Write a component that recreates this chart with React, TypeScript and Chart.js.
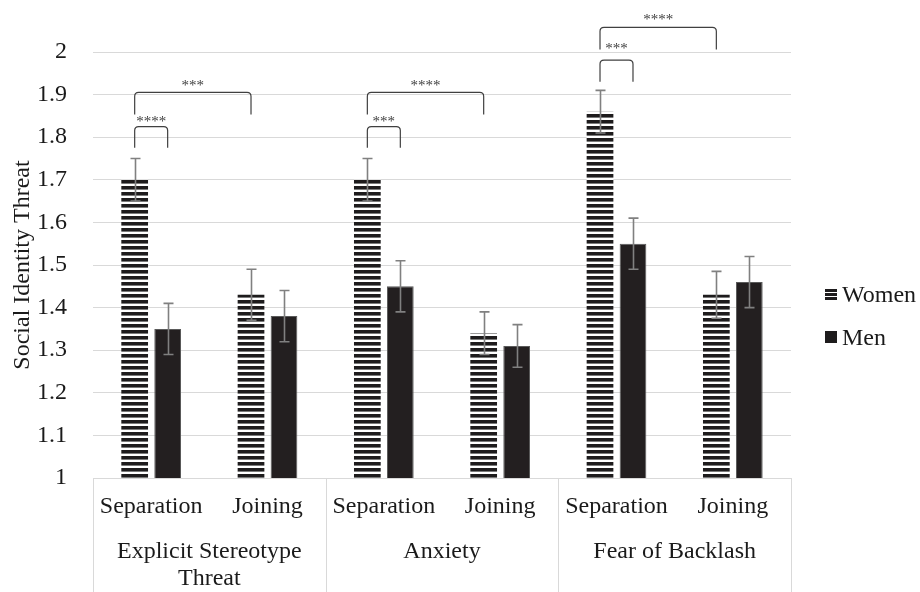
import React, { useEffect, useRef } from 'react';
import { Chart, registerables } from 'chart.js';
Chart.register(...registerables);

const FONT = '"Liberation Serif", "Times New Roman", serif';
const TEXT = '#1a1a1a';
const GRID = '#d9d9d9';

// ---- data ----
const categories = ['Separation', 'Joining', 'Separation', 'Joining', 'Separation', 'Joining'];
const groupLabels = [['Explicit Stereotype', 'Threat'], ['Anxiety'], ['Fear of Backlash']];
const seriesNames = ['Women', 'Men'];
const women = [1.70, 1.43, 1.70, 1.34, 1.86, 1.43];
const men = [1.35, 1.38, 1.45, 1.31, 1.55, 1.46];
const womenErr = [0.05, 0.06, 0.05, 0.05, 0.05, 0.055];
const menErr = [0.06, 0.06, 0.06, 0.05, 0.06, 0.06];
const yTicks = [1, 1.1, 1.2, 1.3, 1.4, 1.5, 1.6, 1.7, 1.8, 1.9, 2];

// significance brackets: from (category, series) to (category, series)
const bracketFromCat = [0, 0, 2, 2, 4, 4];
const bracketFromSeries = [0, 0, 0, 0, 0, 0];
const bracketToCat = [0, 1, 2, 3, 4, 5];
const bracketToSeries = [1, 0, 1, 0, 1, 0];
const bracketTop = [1.825, 1.905, 1.825, 1.905, 1.981, 2.058];
const bracketLegEnd = [1.775, 1.853, 1.775, 1.853, 1.930, 2.006];
const bracketLabels = ['****', '***', '***', '****', '***', '****'];
const bracketLabelLevel = [1.847, 1.933, 1.847, 1.933, 2.018, 2.087];

export default function App() {
  const ref = useRef<HTMLCanvasElement>(null);

  useEffect(() => {
    const canvas = ref.current!;
    const ctx0 = canvas.getContext('2d')!;
    const pc = document.createElement('canvas');
    pc.width = 8;
    pc.height = 6;
    const pctx = pc.getContext('2d')!;
    pctx.fillStyle = '#ffffff';
    pctx.fillRect(0, 0, 8, 6);
    pctx.fillStyle = '#1e1c1d';
    pctx.fillRect(0, 0, 8, 3);
    pctx.fillStyle = '#7a7a7a';
    pctx.fillRect(0, 3, 8, 1);
    const stripes = ctx0.createPattern(pc, 'repeat')!;

    const extras = {
      id: 'extras',
      afterDatasetsDraw(chart: any) {
        const ctx = chart.ctx;
        const y = chart.scales.y;
        const errs = [womenErr, menErr];
        const vals = [women, men];
        ctx.save();
        // error bars
        ctx.strokeStyle = '#808080';
        ctx.lineWidth = 1.6;
        for (let d = 0; d < 2; d++) {
          const meta = chart.getDatasetMeta(d);
          meta.data.forEach((el: any, i: number) => {
            const x = Math.round(el.x) + 0.5;
            const t = y.getPixelForValue(vals[d][i] + errs[d][i]);
            const b = y.getPixelForValue(vals[d][i] - errs[d][i]);
            ctx.beginPath();
            ctx.moveTo(x, t);
            ctx.lineTo(x, b);
            ctx.moveTo(x - 5, t);
            ctx.lineTo(x + 5, t);
            ctx.moveTo(x - 5, b);
            ctx.lineTo(x + 5, b);
            ctx.stroke();
          });
        }
        // brackets
        ctx.strokeStyle = '#404040';
        ctx.lineWidth = 1.2;
        ctx.fillStyle = '#404040';
        ctx.font = `15px ${FONT}`;
        ctx.textAlign = 'center';
        ctx.textBaseline = 'alphabetic';
        for (let k = 0; k < bracketLabels.length; k++) {
          const x1 = chart.getDatasetMeta(bracketFromSeries[k]).data[bracketFromCat[k]].x;
          const x2 = chart.getDatasetMeta(bracketToSeries[k]).data[bracketToCat[k]].x;
          const top = y.getPixelForValue(bracketTop[k]);
          const bot = y.getPixelForValue(bracketLegEnd[k]);
          const r = 4;
          ctx.beginPath();
          ctx.moveTo(x1, bot);
          ctx.lineTo(x1, top + r);
          ctx.quadraticCurveTo(x1, top, x1 + r, top);
          ctx.lineTo(x2 - r, top);
          ctx.quadraticCurveTo(x2, top, x2, top + r);
          ctx.lineTo(x2, bot);
          ctx.stroke();
          const ly = y.getPixelForValue(bracketLabelLevel[k]);
          ctx.fillText(bracketLabels[k], (x1 + x2) / 2, ly + 9);
        }
        ctx.restore();
      },
      afterDraw(chart: any) {
        const ctx = chart.ctx;
        const x = chart.scales.x;
        const area = chart.chartArea;
        const H = chart.height;
        ctx.save();
        // category group separators
        const bounds = [area.left];
        for (let g = 0; g < groupLabels.length - 1; g++) {
          bounds.push((x.getPixelForValue(2 * g + 1) + x.getPixelForValue(2 * g + 2)) / 2);
        }
        bounds.push(area.right);
        ctx.strokeStyle = GRID;
        ctx.lineWidth = 1;
        bounds.forEach((bx) => {
          const px = Math.round(bx) + 0.5;
          ctx.beginPath();
          ctx.moveTo(px, area.bottom);
          ctx.lineTo(px, H);
          ctx.stroke();
        });
        // group labels
        ctx.fillStyle = TEXT;
        ctx.font = `24px ${FONT}`;
        ctx.textAlign = 'center';
        ctx.textBaseline = 'middle';
        groupLabels.forEach((lines, g) => {
          const cx = (x.getPixelForValue(2 * g) + x.getPixelForValue(2 * g + 1)) / 2;
          lines.forEach((ln, j) => {
            ctx.fillText(ln, cx, area.bottom + 74 + j * 27);
          });
        });
        // legend
        const lx = 825;
        const ly = [288, 331];
        ctx.fillStyle = '#ffffff';
        ctx.fillRect(lx, ly[0], 12, 12);
        ctx.fillStyle = '#1e1c1d';
        for (let s = 0; s < 3; s++) ctx.fillRect(lx, ly[0] + 1 + s * 4, 12, 3);
        ctx.fillRect(lx, ly[1], 12, 12);
        ctx.fillStyle = TEXT;
        ctx.textAlign = 'left';
        ctx.textBaseline = 'alphabetic';
        seriesNames.forEach((n, i) => {
          ctx.fillText(n, lx + 17, ly[i] + 14);
        });
        ctx.restore();
      },
    };

    const chart = new Chart(canvas, {
      type: 'bar',
      data: {
        labels: categories,
        datasets: [
          {
            label: seriesNames[0],
            data: women,
            backgroundColor: stripes,
            borderWidth: 0,
            categoryPercentage: 0.567,
            barPercentage: 0.81,
          },
          {
            label: seriesNames[1],
            data: men,
            backgroundColor: '#231f20',
            borderColor: '#5a5a5a',
            borderWidth: 1,
            categoryPercentage: 0.567,
            barPercentage: 0.81,
          },
        ],
      },
      options: {
        responsive: false,
        animation: false,
        layout: { padding: { top: 52, right: 129, left: 0, bottom: 0 } },
        plugins: { legend: { display: false }, tooltip: { enabled: false } },
        scales: {
          x: {
            grid: { display: false, drawTicks: false },
            border: { display: true, color: GRID, width: 1 },
            ticks: { color: TEXT, font: { family: FONT, size: 24 }, padding: 14, maxRotation: 0, autoSkip: false },
            afterFit: (s: any) => { s.height = 114; },
          },
          y: {
            min: 1,
            max: 2,
            afterBuildTicks: (s: any) => { s.ticks = yTicks.map((v) => ({ value: v })); },
            grid: { color: GRID, lineWidth: 1, drawTicks: false },
            border: { display: false },
            ticks: {
              color: TEXT,
              font: { family: FONT, size: 24 },
              padding: 26,
              callback: (v: any) => String(Math.round(Number(v) * 10) / 10),
            },
            title: {
              display: true,
              text: 'Social Identity Threat',
              color: TEXT,
              font: { family: FONT, size: 24 },
              padding: { top: 8, bottom: 0 },
            },
            afterFit: (s: any) => { s.width = 93; },
          },
        },
      },
      plugins: [extras],
    });
    return () => chart.destroy();
  }, []);

  return (
    <div style={{ position: 'fixed', left: 0, top: 0, width: 920, height: 592, background: '#fff' }}>
      <canvas ref={ref} width={920} height={592} style={{ display: 'block' }} />
    </div>
  );
}
